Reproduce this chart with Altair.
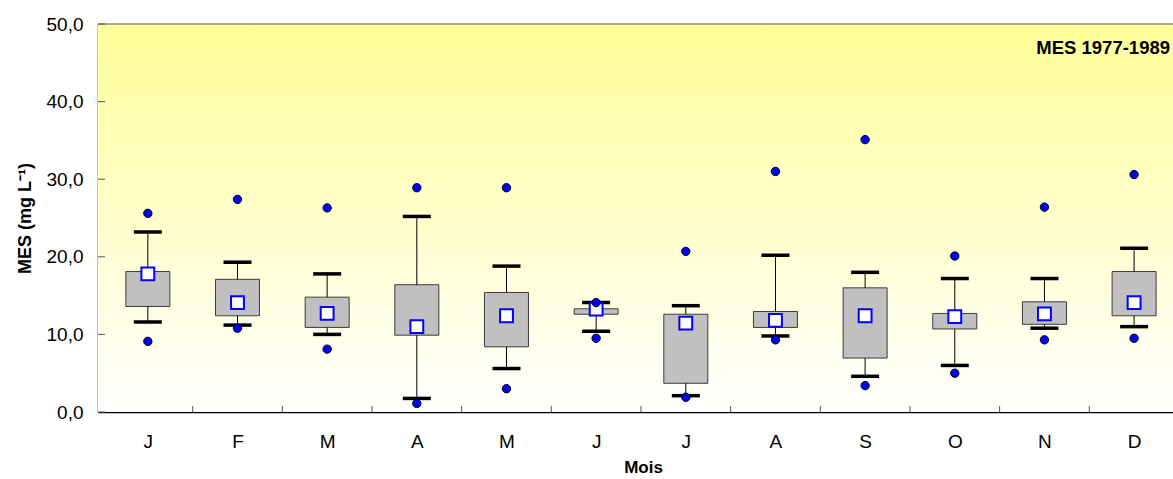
import altair as alt
import pandas as pd

# ---- data ----
months = ['J', 'F', 'M', 'A', 'M', 'J', 'J', 'A', 'S', 'O', 'N', 'D']
idx = list(range(1, 13))
max_pt = [25.6, 27.4, 26.3, 28.9, 28.9, 14.1, 20.7, 31.0, 35.1, 20.1, 26.4, 30.6]
whisk_hi = [23.2, 19.3, 17.8, 25.2, 18.8, 14.1, 13.7, 20.2, 18.0, 17.2, 17.2, 21.1]
q3 = [18.1, 17.1, 14.8, 16.4, 15.4, 13.3, 12.6, 12.95, 16.0, 12.7, 14.2, 18.1]
mean = [17.8, 14.1, 12.7, 11.0, 12.4, 13.25, 11.45, 11.8, 12.4, 12.3, 12.65, 14.1]
q1 = [13.6, 12.4, 10.9, 9.9, 8.4, 12.6, 3.7, 10.9, 6.95, 10.7, 11.3, 12.4]
whisk_lo = [11.6, 11.2, 10.0, 1.75, 5.6, 10.4, 2.1, 9.8, 4.6, 6.0, 10.8, 11.0]
min_pt = [9.1, 10.8, 8.1, 1.1, 3.0, 9.5, 1.9, 9.3, 3.4, 5.0, 9.3, 9.5]
y_ticks = [0, 10, 20, 30, 40, 50]

df = pd.DataFrame({
    'idx': idx, 'month': months, 'max_pt': max_pt, 'whisk_hi': whisk_hi,
    'q3': q3, 'mean': mean, 'q1': q1, 'whisk_lo': whisk_lo, 'min_pt': min_pt,
})
df_y = pd.DataFrame({'v': y_ticks})

W, H = 1075, 388
FONT = 'Liberation Sans'

label_expr = '[' + ','.join("'%s'" % m for m in months) + '][datum.value-1]'

x_scale = alt.Scale(domain=[0.5, 12.378], nice=False, zero=False)
y_scale = alt.Scale(domain=[0, 50], nice=False, zero=True)

x_axis = alt.Axis(values=idx, labelExpr=label_expr, ticks=False, grid=False,
                  labelPadding=20, labelFontSize=19, labelFont=FONT, labelColor='black',
                  labelFlush=False, labelOverlap=False, domainColor='black', domainWidth=1.5,
                  title='Mois', titleFont=FONT, titleFontSize=17, titleFontWeight='bold',
                  titleColor='black', titleX=545, titleY=47, titleAlign='center',
                  titleBaseline='top')
y_axis = alt.Axis(values=y_ticks, labelExpr="replace(format(datum.value,'.1f'),'.',',')",
                  ticks=False, grid=False, labelPadding=15, labelFontSize=19,
                  labelFont=FONT, labelColor='black', domainColor='black', domainWidth=1.5,
                  title='MES (mg L⁻¹)', titleFont=FONT, titleFontSize=18,
                  titleFontWeight='bold', titleColor='black', titleX=-73, titleY=194,
                  titleAngle=270, titleAlign='center', titleBaseline='middle')

X = alt.X('idx:Q', scale=x_scale, axis=x_axis)

def Y(field):
    return alt.Y(field + ':Q', scale=y_scale, axis=y_axis)

one = alt.Data(values=[{'a': 1}])

background = alt.Chart(one).mark_rect(
    fill=alt.LinearGradient(gradient='linear',
                            stops=[alt.GradientStop(color='#FFFF99', offset=0),
                                   alt.GradientStop(color='#FFFFFF', offset=1)],
                            x1=0, x2=0, y1=0, y2=1)
).encode(x=alt.value(0), x2=alt.value(W), y=alt.value(0), y2=alt.value(H))

top_border = alt.Chart(one).mark_rule(color='#8a8a8a', strokeWidth=1.5).encode(
    x=alt.value(0), x2=alt.value(W), y=alt.value(0))

yticks = alt.Chart(df_y).mark_rule(color='#555555', strokeWidth=1).encode(
    y=Y('v'), x=alt.value(0), x2=alt.value(7))

xticks = alt.Chart(df).transform_filter('datum.idx < 12').transform_calculate(
    tpos='datum.idx + 0.5'
).mark_rule(color='#555555', strokeWidth=1).encode(
    x=alt.X('tpos:Q', scale=x_scale, axis=x_axis), y=alt.value(H - 6), y2=alt.value(H))

base = alt.Chart(df)

whisk_up = base.mark_rule(color='black', strokeWidth=1).encode(x=X, y=Y('q3'), y2='whisk_hi:Q')
whisk_dn = base.mark_rule(color='black', strokeWidth=1).encode(x=X, y=Y('whisk_lo'), y2='q1:Q')

box = base.mark_bar(size=44, fill='#C0C0C0', stroke='#3c3c3c', strokeWidth=1).encode(
    x=X, y=Y('q1'), y2='q3:Q')

cap_hi = base.mark_tick(orient='horizontal', size=28, thickness=3.5, color='black',
                        opacity=1).encode(x=X, y=Y('whisk_hi'))
cap_lo = base.mark_tick(orient='horizontal', size=28, thickness=3.5, color='black',
                        opacity=1).encode(x=X, y=Y('whisk_lo'))

mean_sq = base.mark_point(shape='square', size=165, filled=True, fill='white',
                          stroke='#0000FF', strokeWidth=2, opacity=1).encode(x=X, y=Y('mean'))

dots_hi = base.mark_point(shape='circle', size=70, filled=True, fill='#0000FF',
                          stroke='black', strokeWidth=1, opacity=1).encode(x=X, y=Y('max_pt'))
dots_lo = base.mark_point(shape='circle', size=70, filled=True, fill='#0000FF',
                          stroke='black', strokeWidth=1, opacity=1).encode(x=X, y=Y('min_pt'))

label = alt.Chart(one).mark_text(text='MES 1977-1989', font=FONT, fontSize=18.5,
                                 fontWeight='bold', align='right', baseline='alphabetic',
                                 color='black').encode(x=alt.value(1072), y=alt.value(30))

chart = alt.layer(
    background, top_border, yticks, xticks, box, whisk_up, whisk_dn, cap_hi, cap_lo,
    mean_sq, dots_hi, dots_lo, label
).properties(
    width=W, height=H,
    padding={'left': 98, 'top': 24, 'right': 0, 'bottom': 67},
    autosize=alt.AutoSizeParams(type='none'),
    background='white'
).configure_view(stroke=None)

chart.save('out.html', embed_options={'renderer': 'svg', 'actions': False})
